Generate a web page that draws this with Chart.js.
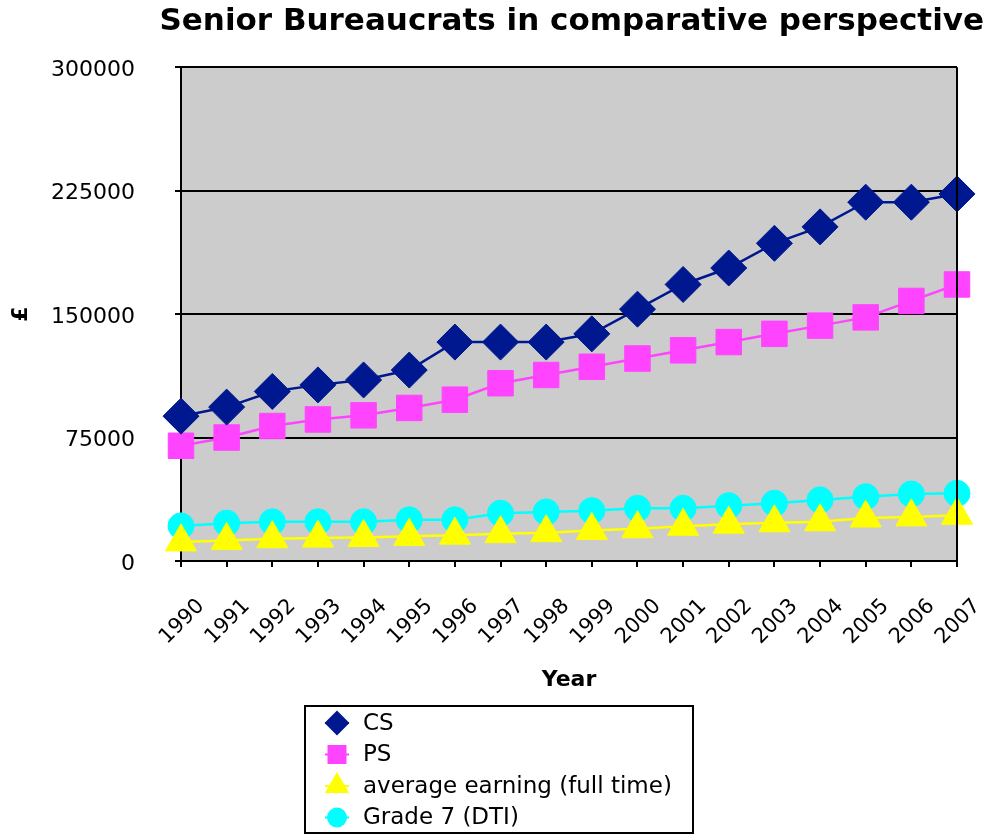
<!DOCTYPE html>
<html>
<head>
<meta charset="utf-8">
<script src="https://cdn.jsdelivr.net/npm/chart.js@4/dist/chart.umd.min.js"></script>
<style>
  html, body { margin: 0; padding: 0; background: #fff; }
  #wrap { width: 984px; height: 834px; }
</style>
</head>
<body>
<div id="wrap"><canvas id="grafico" width="984" height="834"></canvas></div>
<script>
// valores (libras)
const anos = ['1990','1991','1992','1993','1994','1995','1996','1997','1998','1999','2000','2001','2002','2003','2004','2005','2006','2007'];
const serieCS = [88000, 93500, 103000, 107000, 110000, 116000, 133000, 133000, 133000, 138000, 153000, 168000, 178000, 193000, 203000, 218000, 218000, 223000];
const seriePS = [70000, 75000, 82000, 86000, 88500, 93000, 98000, 108000, 113000, 118000, 123000, 128000, 133000, 138000, 143000, 148000, 158000, 168000];
const serieMedia = [11600, 12500, 13500, 13900, 14300, 15000, 15700, 16600, 17200, 18600, 19600, 21100, 22400, 23200, 23800, 26100, 26800, 27800];
const serieGrade7 = [21300, 23000, 23800, 23800, 23800, 25000, 25000, 29000, 29800, 30600, 32000, 32000, 33600, 35100, 37100, 39100, 40700, 41100];
const ticksY = [0, 75000, 150000, 225000, 300000];

const FONTE = "'DejaVu Sans', Verdana, sans-serif";

/** fundo cinza e moldura da área do gráfico */
const fundoPlot = {
  id: 'fundoPlot',
  beforeDraw(chart) {
    const { ctx, chartArea: a } = chart;
    ctx.save();
    ctx.fillStyle = '#CCCCCC';
    ctx.fillRect(a.left, a.top, a.right - a.left, a.bottom - a.top);
    ctx.restore();
  },
  afterDatasetsDraw(chart) {
    const { ctx, chartArea: a } = chart;
    ctx.save();
    ctx.strokeStyle = '#000';
    ctx.lineWidth = 2;
    ctx.beginPath();
    ctx.moveTo(a.right, a.top);
    ctx.lineTo(a.right, a.bottom);
    ctx.stroke();
    ctx.restore();
  }
};

/** legenda em caixa, uma série por linha */
const legendaCaixa = {
  id: 'legendaCaixa',
  afterDraw(chart) {
    const { ctx } = chart;
    const box = { x: 305, y: 706, w: 388, h: 127 };
    ctx.save();
    ctx.fillStyle = '#fff';
    ctx.fillRect(box.x, box.y, box.w, box.h);
    ctx.strokeStyle = '#000';
    ctx.lineWidth = 2;
    ctx.strokeRect(box.x, box.y, box.w, box.h);
    ctx.font = '23px ' + FONTE;
    ctx.textBaseline = 'middle';
    chart.data.datasets.forEach((ds, i) => {
      const cy = 723 + i * 31.5;
      ctx.strokeStyle = ds.borderColor;
      ctx.lineWidth = 2;
      ctx.beginPath();
      ctx.moveTo(325, cy);
      ctx.lineTo(349, cy);
      ctx.stroke();
      ctx.fillStyle = ds.pointBackgroundColor;
      ctx.strokeStyle = ds.pointBackgroundColor;
      Chart.helpers.drawPoint(ctx, { pointStyle: ds.pointStyle, radius: ds.legendRadius, borderWidth: 1 }, 337, cy);
      ctx.fillStyle = '#000';
      ctx.fillText(ds.label, 363, cy + 1);
    });
    ctx.restore();
  }
};

function serie(label, dados, cor, estilo, raio, raioLegenda) {
  return {
    label, data: dados,
    borderColor: cor, backgroundColor: cor,
    pointBackgroundColor: cor, pointBorderColor: cor,
    pointStyle: estilo, pointRadius: raio, pointHoverRadius: raio, pointBorderWidth: 1,
    borderWidth: 2.5, tension: 0, fill: false,
    legendRadius: raioLegenda
  };
}

const grafico = new Chart(document.getElementById('grafico'), {
  type: 'line',
  data: {
    labels: anos,
    datasets: [
      serie('CS', serieCS, '#00188F', 'rectRot', 18, 11),
      serie('PS', seriePS, '#FF44FF', 'rect', 18, 12),
      serie('average earning (full time)', serieMedia, '#FFFF00', 'triangle', 18, 12),
      serie('Grade 7 (DTI)', serieGrade7, '#00FFFF', 'circle', 13, 9)
    ]
  },
  options: {
    responsive: false,
    animation: false,
    layout: { padding: 0 },
    plugins: {
      legend: { display: false },
      tooltip: { enabled: false },
      title: {
        display: true, fullSize: true, align: 'end',
        text: 'Senior Bureaucrats in comparative perspective',
        color: '#000',
        font: { family: FONTE, size: 31, weight: 'bold' },
        padding: { top: 3, bottom: 27 }
      }
    },
    scales: {
      x: {
        type: 'category', offset: false,
        border: { color: '#000', width: 2 },
        grid: { drawOnChartArea: false, color: '#000', lineWidth: 2, tickLength: 6 },
        ticks: { color: '#000', autoSkip: false, minRotation: 45, maxRotation: 45, padding: 27, labelOffset: 20, font: { family: FONTE, size: 21 } },
        title: { display: true, text: 'Year', color: '#000', font: { family: FONTE, size: 22, weight: 'bold' }, padding: { top: 0, bottom: 141 } },
        afterFit(scale) {
          scale.height = 834 - 561;
          scale.paddingLeft = 0;
          scale.paddingRight = 27;
        }
      },
      y: {
        min: 0, max: 300000,
        border: { color: '#000', width: 2 },
        grid: { color: '#000', lineWidth: 2, tickLength: 6 },
        afterBuildTicks(scale) { scale.ticks = ticksY.map(v => ({ value: v })); },
        ticks: { color: '#000', padding: 40, labelOffset: 3, font: { family: FONTE, size: 22 }, callback: v => String(v) },
        title: { display: true, text: '£', color: '#000', font: { family: FONTE, size: 22, weight: 'bold' }, padding: { top: 8, bottom: 0 } },
        afterFit(scale) { scale.width = 181; }
      }
    }
  },
  plugins: [fundoPlot, legendaCaixa]
});
</script>
</body>
</html>
